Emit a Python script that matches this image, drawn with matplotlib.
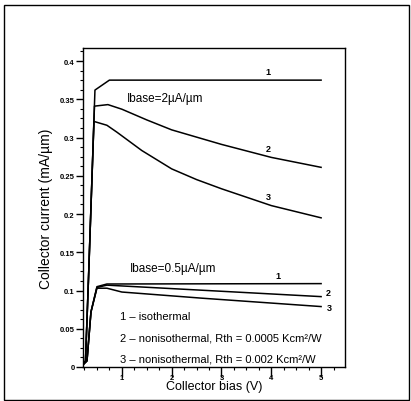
import matplotlib
matplotlib.use("Agg")
import matplotlib.pyplot as plt
import numpy as np
from matplotlib.patches import Rectangle
from matplotlib.ticker import MultipleLocator

plt.rcParams["font.family"] = ["Liberation Sans", "DejaVu Sans"]

# Ibase = 2 uA/um
hi_v1 = [0.22, 0.27, 0.33, 0.46, 0.75, 5.0]
hi_i1 = [0.003, 0.008, 0.115, 0.362, 0.375, 0.375]
hi_v2 = [0.22, 0.27, 0.33, 0.45, 0.72, 1.0, 1.5, 2.0, 3.0, 4.0, 5.0]
hi_i2 = [0.003, 0.008, 0.115, 0.341, 0.343, 0.337, 0.323, 0.310, 0.291, 0.274, 0.261]
hi_v3 = [0.22, 0.27, 0.33, 0.44, 0.70, 0.9, 1.4, 2.0, 2.5, 3.0, 4.0, 5.0]
hi_i3 = [0.003, 0.008, 0.115, 0.321, 0.316, 0.307, 0.283, 0.259, 0.245, 0.233, 0.211, 0.195]

# Ibase = 0.5 uA/um
lo_v1 = [0.22, 0.30, 0.38, 0.50, 0.70, 5.0]
lo_i1 = [0.003, 0.008, 0.072, 0.105, 0.1085, 0.109]
lo_v2 = [0.22, 0.30, 0.38, 0.50, 0.70, 2.57, 5.0]
lo_i2 = [0.003, 0.008, 0.072, 0.104, 0.107, 0.1005, 0.092]
lo_v3 = [0.22, 0.30, 0.38, 0.50, 0.70, 1.0, 2.6, 5.0]
lo_i3 = [0.003, 0.008, 0.072, 0.103, 0.103, 0.098, 0.090, 0.079]

y_ticks = [0, 0.05, 0.1, 0.15, 0.2, 0.25, 0.3, 0.35, 0.4]
y_ticklabels = ["0", "0.05", "0.1", "0.15", "0.2", "0.25", "0.3", "0.35", "0.4"]

legend_lines = [
    "1 \u2013 isothermal",
    "2 \u2013 nonisothermal, Rth = 0.0005 Kcm\u00b2/W",
    "3 \u2013 nonisothermal, Rth = 0.002 Kcm\u00b2/W",
]

fig = plt.figure(figsize=(4.11, 4.02), dpi=100)
fig.patches.append(Rectangle((4 / 411, 1 / 402), 405 / 411, 395 / 402, transform=fig.transFigure,
                             fill=False, edgecolor="black", lw=1.0))
ax = fig.add_axes([83 / 411, 34 / 402, 262 / 411, 319 / 402])

for v, i in [(hi_v1, hi_i1), (hi_v2, hi_i2), (hi_v3, hi_i3),
             (lo_v1, lo_i1), (lo_v2, lo_i2), (lo_v3, lo_i3)]:
    ax.plot(v, i, color="black", lw=1.1)

ax.set_xlim(0.22, 5.48)
ax.set_ylim(0, 0.417)
ax.xaxis.set_major_locator(MultipleLocator(1))
ax.xaxis.set_minor_locator(MultipleLocator(0.25))
ax.yaxis.set_minor_locator(MultipleLocator(0.0125))
ax.set_yticks(y_ticks)
ax.set_yticklabels(y_ticklabels)
ax.tick_params(which="major", direction="out", length=5, width=1, labelsize=5.5, pad=1)
ax.tick_params(which="minor", direction="out", length=2.5, width=0.8)
ax.tick_params(axis="x", which="major", length=7, pad=-2)
for lab in ax.get_xticklabels() + ax.get_yticklabels():
    lab.set_fontweight("bold")
for s in ax.spines.values():
    s.set_linewidth(1.0)

ax.set_ylabel("Collector current (mA/\u00b5m)", fontsize=10, labelpad=5)
ax.set_xlabel("Collector bias (V)", fontsize=9, labelpad=-1)

ax.text(1.87, 0.352, "Ibase=2\u00b5A/\u00b5m", fontsize=8.5, ha="center", va="center")
ax.text(2.03, 0.129, "Ibase=0.5\u00b5A/\u00b5m", fontsize=8.5, ha="center", va="center")
for x, y, s in [(3.94, 0.386, "1"), (3.94, 0.285, "2"), (3.94, 0.2235, "3"),
                (4.14, 0.119, "1"), (5.14, 0.097, "2"), (5.16, 0.078, "3")]:
    ax.text(x, y, s, fontsize=6.5, fontweight="bold", ha="center", va="center")
for y, s in zip([0.0667, 0.039, 0.0105], legend_lines):
    ax.text(0.96, y, s, fontsize=8, ha="left", va="center")

fig.savefig("out.png", dpi=100)
